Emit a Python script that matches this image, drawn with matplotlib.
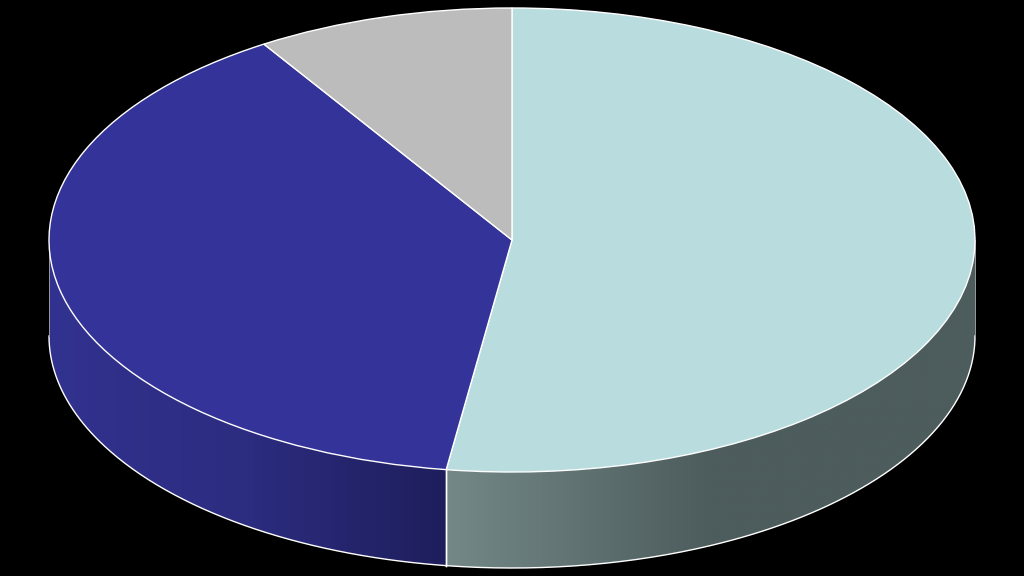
# 3D looking pie chart on black background

import matplotlib
matplotlib.use('Agg')
import matplotlib.pyplot as plt
import numpy as np
from matplotlib.colors import LinearSegmentedColormap
from matplotlib.patches import PathPatch
from matplotlib.path import Path

# Share of each slice, clockwise from the top
shares = [52.27, 38.73, 9.0]
top_colors = ['#b9dcdf', '#333399', '#bcbcbc']

# Side wall gradients, left to right
side_colors = {0: ['#748888', '#4d5c5c', '#4d5c5c'], 1: ['#323290', '#2c2c80', '#1e1e5c']}

WIDTH, HEIGHT = 1024, 576
CENTER_X, CENTER_Y = 512, 240
RX, RY = 463, 232
DEPTH = 96 / RY


def side_path(theta1, theta2):
    # Wall below the rim, between two angles (degrees)
    t = np.radians(np.linspace(theta1, theta2, 200))
    x, y = np.cos(t), np.sin(t)
    xs = np.concatenate([x, x[::-1], x[:1]])
    ys = np.concatenate([y, y[::-1] - DEPTH, y[:1]])
    return xs, ys


def draw_side(ax, i, theta1, theta2):
    xs, ys = side_path(theta1, theta2)
    verts = np.column_stack([xs, ys])
    path = Path(verts, closed=True)
    cmap = LinearSegmentedColormap.from_list('side%d' % i, side_colors[i])
    grad = np.linspace(0, 1, 256).reshape(1, -1)
    im = ax.imshow(grad, cmap=cmap, aspect='auto', zorder=1, interpolation='bilinear',
                   extent=[xs.min(), xs.max(), ys.min(), ys.max()])
    clip = PathPatch(path, transform=ax.transData, facecolor='none', edgecolor='none')
    ax.add_patch(clip)
    im.set_clip_path(clip)

    # Bottom rim and seam lines
    t = np.radians(np.linspace(theta1, theta2, 200))
    ax.plot(np.cos(t), np.sin(t) - DEPTH, color='white', lw=1.0, zorder=2)
    for edge in (theta1, theta2):
        ex, ey = np.cos(np.radians(edge)), np.sin(np.radians(edge))
        is_outer = abs(ey) < 1e-6
        ax.plot([ex, ex], [ey, ey - DEPTH], color='#9a9a9a' if is_outer else 'white',
                lw=0.7 if is_outer else 1.0, zorder=2)


def main():
    fig = plt.figure(figsize=(WIDTH / 100, HEIGHT / 100), dpi=100, facecolor='black')
    ax = fig.add_axes([0, 0, 1, 1])
    ax.set_facecolor('black')

    ax.pie(shares, colors=top_colors, startangle=90, counterclock=False, radius=1,
           wedgeprops={'edgecolor': 'white', 'linewidth': 1.0, 'zorder': 3})

    # Angle where light slice ends, wall only shows on the lower half
    seam = 90 - 360 * shares[0] / sum(shares)
    draw_side(ax, 0, seam, 0)
    draw_side(ax, 1, -180, seam)

    ax.set_aspect('auto')
    ax.set_xlim(-CENTER_X / RX, (WIDTH - CENTER_X) / RX)
    ax.set_ylim(-(HEIGHT - CENTER_Y) / RY, CENTER_Y / RY)
    ax.axis('off')
    fig.savefig('out.png', dpi=100, facecolor='black')


if __name__ == '__main__':
    main()
